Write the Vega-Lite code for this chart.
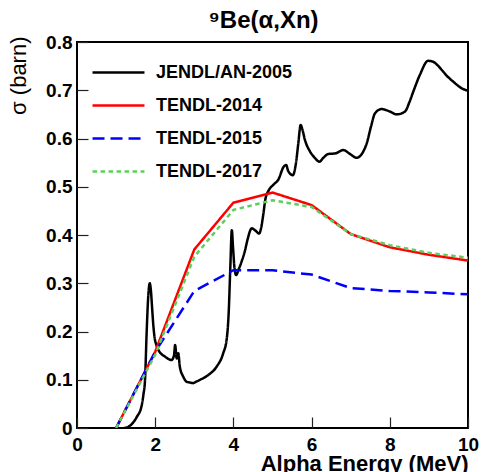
{
  "$schema": "https://vega.github.io/schema/vega-lite/v6.json",
  "width": 391,
  "height": 386,
  "autosize": {"type": "none"},
  "padding": {"left": 77, "top": 42, "right": 13, "bottom": 44},
  "background": "white",
  "title": {
    "text": "⁹Be(α,Xn)",
    "font": "Liberation Sans",
    "fontSize": 24,
    "fontWeight": "bold",
    "color": "black",
    "anchor": "middle",
    "frame": "group",
    "dx": -9,
    "offset": 0
  },
  "config": {
    "font": "Liberation Sans",
    "view": {"stroke": "black", "strokeWidth": 2},
    "axis": {
      "domain": false,
      "labelColor": "black",
      "labelFont": "Liberation Sans",
      "labelFontSize": 19,
      "labelFontWeight": "bold",
      "labelFlush": false,
      "titleColor": "black",
      "titleFont": "Liberation Sans"
    },
    "legend": {
      "orient": "none",
      "legendX": 14,
      "legendY": 14,
      "padding": 0,
      "labelFont": "Liberation Sans",
      "labelFontSize": 18,
      "labelFontWeight": "bold",
      "labelColor": "black",
      "symbolType": "stroke",
      "symbolSize": 2700,
      "symbolStrokeWidth": 2.5,
      "clipHeight": 33,
      "rowPadding": 0,
      "labelOffset": 10
    }
  },
  "data": {
    "values": [
      {"series": "JENDL/AN-2005", "energy": 1.20, "xs": 0.000},
      {"series": "JENDL/AN-2005", "energy": 1.30, "xs": 0.002},
      {"series": "JENDL/AN-2005", "energy": 1.40, "xs": 0.008},
      {"series": "JENDL/AN-2005", "energy": 1.53, "xs": 0.023},
      {"series": "JENDL/AN-2005", "energy": 1.65, "xs": 0.045},
      {"series": "JENDL/AN-2005", "energy": 1.70, "xs": 0.070},
      {"series": "JENDL/AN-2005", "energy": 1.74, "xs": 0.100},
      {"series": "JENDL/AN-2005", "energy": 1.78, "xs": 0.195},
      {"series": "JENDL/AN-2005", "energy": 1.82, "xs": 0.270},
      {"series": "JENDL/AN-2005", "energy": 1.86, "xs": 0.300},
      {"series": "JENDL/AN-2005", "energy": 1.89, "xs": 0.285},
      {"series": "JENDL/AN-2005", "energy": 1.92, "xs": 0.250},
      {"series": "JENDL/AN-2005", "energy": 1.95, "xs": 0.215},
      {"series": "JENDL/AN-2005", "energy": 1.98, "xs": 0.190},
      {"series": "JENDL/AN-2005", "energy": 2.03, "xs": 0.172},
      {"series": "JENDL/AN-2005", "energy": 2.08, "xs": 0.162},
      {"series": "JENDL/AN-2005", "energy": 2.25, "xs": 0.148},
      {"series": "JENDL/AN-2005", "energy": 2.42, "xs": 0.141},
      {"series": "JENDL/AN-2005", "energy": 2.48, "xs": 0.150},
      {"series": "JENDL/AN-2005", "energy": 2.51, "xs": 0.172},
      {"series": "JENDL/AN-2005", "energy": 2.55, "xs": 0.144},
      {"series": "JENDL/AN-2005", "energy": 2.59, "xs": 0.155},
      {"series": "JENDL/AN-2005", "energy": 2.63, "xs": 0.127},
      {"series": "JENDL/AN-2005", "energy": 2.72, "xs": 0.106},
      {"series": "JENDL/AN-2005", "energy": 2.80, "xs": 0.096},
      {"series": "JENDL/AN-2005", "energy": 2.90, "xs": 0.094},
      {"series": "JENDL/AN-2005", "energy": 2.97, "xs": 0.093},
      {"series": "JENDL/AN-2005", "energy": 3.05, "xs": 0.096},
      {"series": "JENDL/AN-2005", "energy": 3.15, "xs": 0.100},
      {"series": "JENDL/AN-2005", "energy": 3.36, "xs": 0.110},
      {"series": "JENDL/AN-2005", "energy": 3.57, "xs": 0.127},
      {"series": "JENDL/AN-2005", "energy": 3.74, "xs": 0.155},
      {"series": "JENDL/AN-2005", "energy": 3.83, "xs": 0.185},
      {"series": "JENDL/AN-2005", "energy": 3.88, "xs": 0.240},
      {"series": "JENDL/AN-2005", "energy": 3.92, "xs": 0.330},
      {"series": "JENDL/AN-2005", "energy": 3.96, "xs": 0.410},
      {"series": "JENDL/AN-2005", "energy": 3.99, "xs": 0.375},
      {"series": "JENDL/AN-2005", "energy": 4.03, "xs": 0.330},
      {"series": "JENDL/AN-2005", "energy": 4.07, "xs": 0.317},
      {"series": "JENDL/AN-2005", "energy": 4.14, "xs": 0.330},
      {"series": "JENDL/AN-2005", "energy": 4.21, "xs": 0.345},
      {"series": "JENDL/AN-2005", "energy": 4.30, "xs": 0.369},
      {"series": "JENDL/AN-2005", "energy": 4.36, "xs": 0.390},
      {"series": "JENDL/AN-2005", "energy": 4.47, "xs": 0.414},
      {"series": "JENDL/AN-2005", "energy": 4.55, "xs": 0.410},
      {"series": "JENDL/AN-2005", "energy": 4.66, "xs": 0.403},
      {"series": "JENDL/AN-2005", "energy": 4.71, "xs": 0.415},
      {"series": "JENDL/AN-2005", "energy": 4.76, "xs": 0.440},
      {"series": "JENDL/AN-2005", "energy": 4.82, "xs": 0.475},
      {"series": "JENDL/AN-2005", "energy": 4.90, "xs": 0.492},
      {"series": "JENDL/AN-2005", "energy": 5.02, "xs": 0.504},
      {"series": "JENDL/AN-2005", "energy": 5.15, "xs": 0.515},
      {"series": "JENDL/AN-2005", "energy": 5.29, "xs": 0.542},
      {"series": "JENDL/AN-2005", "energy": 5.35, "xs": 0.545},
      {"series": "JENDL/AN-2005", "energy": 5.40, "xs": 0.533},
      {"series": "JENDL/AN-2005", "energy": 5.52, "xs": 0.524},
      {"series": "JENDL/AN-2005", "energy": 5.60, "xs": 0.549},
      {"series": "JENDL/AN-2005", "energy": 5.66, "xs": 0.590},
      {"series": "JENDL/AN-2005", "energy": 5.72, "xs": 0.628},
      {"series": "JENDL/AN-2005", "energy": 5.76, "xs": 0.620},
      {"series": "JENDL/AN-2005", "energy": 5.83, "xs": 0.597},
      {"series": "JENDL/AN-2005", "energy": 5.96, "xs": 0.573},
      {"series": "JENDL/AN-2005", "energy": 6.08, "xs": 0.560},
      {"series": "JENDL/AN-2005", "energy": 6.20, "xs": 0.552},
      {"series": "JENDL/AN-2005", "energy": 6.30, "xs": 0.560},
      {"series": "JENDL/AN-2005", "energy": 6.43, "xs": 0.568},
      {"series": "JENDL/AN-2005", "energy": 6.60, "xs": 0.569},
      {"series": "JENDL/AN-2005", "energy": 6.81, "xs": 0.576},
      {"series": "JENDL/AN-2005", "energy": 6.98, "xs": 0.568},
      {"series": "JENDL/AN-2005", "energy": 7.15, "xs": 0.560},
      {"series": "JENDL/AN-2005", "energy": 7.30, "xs": 0.570},
      {"series": "JENDL/AN-2005", "energy": 7.41, "xs": 0.590},
      {"series": "JENDL/AN-2005", "energy": 7.52, "xs": 0.625},
      {"series": "JENDL/AN-2005", "energy": 7.62, "xs": 0.652},
      {"series": "JENDL/AN-2005", "energy": 7.79, "xs": 0.661},
      {"series": "JENDL/AN-2005", "energy": 8.00, "xs": 0.656},
      {"series": "JENDL/AN-2005", "energy": 8.18, "xs": 0.650},
      {"series": "JENDL/AN-2005", "energy": 8.39, "xs": 0.656},
      {"series": "JENDL/AN-2005", "energy": 8.50, "xs": 0.675},
      {"series": "JENDL/AN-2005", "energy": 8.60, "xs": 0.697},
      {"series": "JENDL/AN-2005", "energy": 8.77, "xs": 0.732},
      {"series": "JENDL/AN-2005", "energy": 8.98, "xs": 0.761},
      {"series": "JENDL/AN-2005", "energy": 9.11, "xs": 0.759},
      {"series": "JENDL/AN-2005", "energy": 9.22, "xs": 0.752},
      {"series": "JENDL/AN-2005", "energy": 9.33, "xs": 0.742},
      {"series": "JENDL/AN-2005", "energy": 9.47, "xs": 0.729},
      {"series": "JENDL/AN-2005", "energy": 9.62, "xs": 0.718},
      {"series": "JENDL/AN-2005", "energy": 9.84, "xs": 0.704},
      {"series": "JENDL/AN-2005", "energy": 10.0, "xs": 0.699},
      {"series": "TENDL-2014", "energy": 1, "xs": 0.000},
      {"series": "TENDL-2014", "energy": 2, "xs": 0.158},
      {"series": "TENDL-2014", "energy": 3, "xs": 0.370},
      {"series": "TENDL-2014", "energy": 4, "xs": 0.467},
      {"series": "TENDL-2014", "energy": 5, "xs": 0.488},
      {"series": "TENDL-2014", "energy": 6, "xs": 0.462},
      {"series": "TENDL-2014", "energy": 7, "xs": 0.402},
      {"series": "TENDL-2014", "energy": 8, "xs": 0.3745},
      {"series": "TENDL-2014", "energy": 9, "xs": 0.359},
      {"series": "TENDL-2014", "energy": 10, "xs": 0.347},
      {"series": "TENDL-2015", "energy": 1, "xs": 0.000},
      {"series": "TENDL-2015", "energy": 2, "xs": 0.158},
      {"series": "TENDL-2015", "energy": 3, "xs": 0.284},
      {"series": "TENDL-2015", "energy": 4, "xs": 0.327},
      {"series": "TENDL-2015", "energy": 5, "xs": 0.327},
      {"series": "TENDL-2015", "energy": 6, "xs": 0.318},
      {"series": "TENDL-2015", "energy": 7, "xs": 0.290},
      {"series": "TENDL-2015", "energy": 8, "xs": 0.284},
      {"series": "TENDL-2015", "energy": 9, "xs": 0.281},
      {"series": "TENDL-2015", "energy": 10, "xs": 0.277},
      {"series": "TENDL-2017", "energy": 1, "xs": 0.000},
      {"series": "TENDL-2017", "energy": 2, "xs": 0.152},
      {"series": "TENDL-2017", "energy": 3, "xs": 0.355},
      {"series": "TENDL-2017", "energy": 4, "xs": 0.452},
      {"series": "TENDL-2017", "energy": 5, "xs": 0.472},
      {"series": "TENDL-2017", "energy": 6, "xs": 0.458},
      {"series": "TENDL-2017", "energy": 7, "xs": 0.402},
      {"series": "TENDL-2017", "energy": 8, "xs": 0.379},
      {"series": "TENDL-2017", "energy": 9, "xs": 0.363},
      {"series": "TENDL-2017", "energy": 10, "xs": 0.353}
    ]
  },
  "layer": [
    {
      "transform": [{"filter": "datum.series == 'JENDL/AN-2005'"}],
      "mark": {"type": "line", "strokeWidth": 2.5, "interpolate": "monotone", "clip": true},
      "encoding": {
        "x": {
          "field": "energy",
          "type": "quantitative",
          "scale": {"domain": [0, 10], "nice": false},
          "axis": {
            "orient": "bottom",
            "values": [0, 1, 2, 3, 4, 5, 6, 7, 8, 9, 10],
            "format": "d",
            "labelOverlap": false,
            "grid": false,
            "ticks": true,
            "tickColor": "#222222",
            "tickWidth": 1.2,
            "offset": -11,
            "tickSize": 11,
            "labelPadding": 7,
            "title": "Alpha Energy (MeV)",
            "titleFontSize": 22,
            "titleFontWeight": "bold",
            "titleAnchor": "end",
            "titlePadding": -1
          }
        },
        "y": {
          "field": "xs",
          "type": "quantitative",
          "scale": {"domain": [0, 0.8], "nice": false, "zero": true},
          "axis": {
            "orient": "left",
            "values": [0, 0.1, 0.2, 0.3, 0.4, 0.5, 0.6, 0.7, 0.8],
            "format": ".1~f",
            "labelOverlap": false,
            "grid": false,
            "ticks": true,
            "tickColor": "#222222",
            "tickWidth": 1.2,
            "offset": -11,
            "tickSize": 11,
            "labelPadding": 5,
            "title": "σ (barn)",
            "titleFontSize": 22,
            "titleFontWeight": "normal",
            "titleAnchor": "end",
            "titleAlign": "right",
            "titleY": -6,
            "titlePadding": 15
          }
        },
        "color": {
          "field": "series",
          "type": "nominal",
          "scale": {
            "domain": ["JENDL/AN-2005", "TENDL-2014", "TENDL-2015", "TENDL-2017"],
            "range": ["#000000", "#ff0000", "#0000ff", "#5ccf5c"]
          },
          "legend": {"title": null}
        },
        "strokeDash": {
          "field": "series",
          "type": "nominal",
          "scale": {
            "domain": ["JENDL/AN-2005", "TENDL-2014", "TENDL-2015", "TENDL-2017"],
            "range": [[1, 0], [1, 0], [12, 6], [4.5, 3.5]]
          },
          "legend": {"title": null}
        }
      }
    },
    {
      "transform": [{"filter": "datum.series != 'JENDL/AN-2005'"}],
      "mark": {"type": "line", "strokeWidth": 2.5, "clip": true},
      "encoding": {
        "x": {"field": "energy", "type": "quantitative"},
        "y": {"field": "xs", "type": "quantitative"},
        "color": {"field": "series", "type": "nominal"},
        "strokeDash": {"field": "series", "type": "nominal"}
      }
    }
  ]
}
